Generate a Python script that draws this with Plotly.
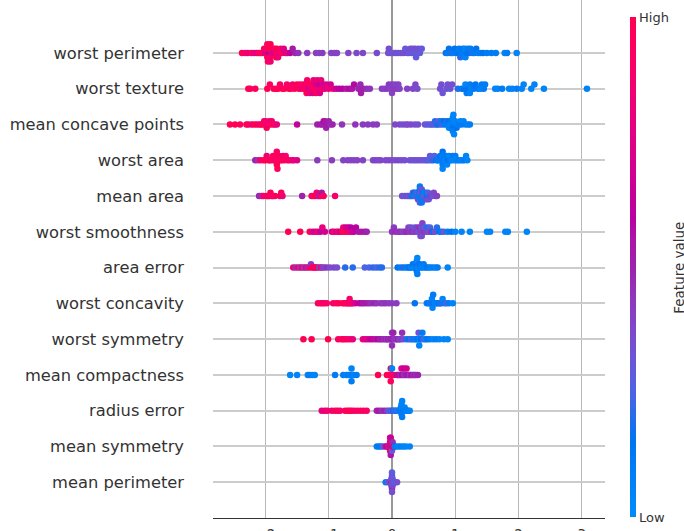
import numpy as np
import plotly.graph_objects as go

# Feature names, top to bottom
features = ["worst perimeter", "worst texture", "mean concave points", "worst area",
            "mean area", "worst smoothness", "area error", "worst concavity",
            "worst symmetry", "mean compactness", "radius error", "mean symmetry",
            "mean perimeter"]

# (SHAP value, normalised feature value) pairs
worst_perimeter = [
    (-2.37, .9), (-2.32, .95), (-2.28, .8), (-2.22, .95), (-2.18, .85), (-2.14, .75), (-2.10, .95),
    (-2.07, .9), (-2.04, 1), (-2.02, .95), (-2.00, .7), (-1.99, .9), (-1.97, 1), (-1.97, .95),
    (-1.96, .95), (-1.95, .6), (-1.95, 1), (-1.93, .9), (-1.92, 1), (-1.92, .85), (-1.90, .85),
    (-1.88, .95), (-1.87, .7), (-1.85, .9), (-1.83, 1), (-1.82, .95), (-1.82, 1), (-1.80, .85),
    (-1.78, .8), (-1.76, .9), (-1.74, .95), (-1.71, .75), (-1.68, .7), (-1.65, .8), (-1.61, .6),
    (-1.57, .55), (-1.53, .5), (-1.48, .45),
    (-1.34, .42), (-1.20, .42), (-1.15, .4), (-1.10, .42), (-0.96, .4), (-0.91, .4), (-0.87, .4),
    (-0.69, .4), (-0.56, .38), (-0.46, .38), (-0.24, .37), (-0.06, .35),
    (-0.05, .35), (-0.02, .35), (0.02, .3), (0.06, .35), (0.10, .35), (0.14, .3), (0.18, .35),
    (0.21, .3), (0.24, .35), (0.27, .3), (0.29, .35), (0.31, .3), (0.33, .35), (0.35, .3),
    (0.37, .35), (0.38, .3), (0.40, .3), (0.42, .35), (0.44, .3), (0.47, .3),
    (0.85, .15), (0.88, .1), (0.90, .15), (0.93, .2), (0.96, .1), (0.99, .15), (1.02, .1),
    (1.04, .15), (1.06, .1), (1.08, .2), (1.10, .1), (1.12, .15), (1.14, .1), (1.15, .05),
    (1.16, .05), (1.18, .15), (1.20, .1), (1.22, .15), (1.24, .1), (1.27, .2), (1.30, .1),
    (1.33, .15), (1.36, .1), (1.40, .1), (1.44, .15), (1.50, .1), (1.57, .1), (1.64, .1),
    (1.78, .05), (1.82, .1), (1.97, .05)]

worst_texture = [
    (-2.27, 1), (-2.24, .95), (-2.16, .95),
    (-1.97, 1), (-1.93, .95), (-1.87, .9), (-1.83, 1), (-1.80, .95), (-1.77, .9), (-1.73, 1),
    (-1.70, .95), (-1.66, .9), (-1.63, 1), (-1.60, .95), (-1.57, .85), (-1.54, .95), (-1.50, 1),
    (-1.47, .9), (-1.45, .95), (-1.42, .8), (-1.40, .9), (-1.38, 1), (-1.36, .85), (-1.35, .95),
    (-1.34, .95), (-1.32, .75), (-1.30, .9), (-1.30, .85), (-1.28, .85), (-1.26, .95), (-1.25, .7),
    (-1.24, .8), (-1.22, .9), (-1.20, .7), (-1.20, .95), (-1.18, .85), (-1.16, .9), (-1.15, .65),
    (-1.14, .75), (-1.12, .8), (-1.10, .85), (-1.08, .7), (-1.06, .8), (-1.03, .75), (-1.00, .85),
    (-0.97, .7), (-0.93, .8),
    (-0.88, .65), (-0.83, .6), (-0.78, .6), (-0.72, .55), (-0.67, .62), (-0.63, .55), (-0.60, .58),
    (-0.53, .5), (-0.50, .48), (-0.49, .52), (-0.45, .5), (-0.40, .46), (-0.35, .45),
    (-0.16, .42), (-0.12, .4), (-0.08, .42), (-0.05, .42), (-0.02, .4), (0.00, .42), (0.00, .4),
    (0.03, .42), (0.05, .4), (0.08, .42), (0.10, .4), (0.12, .4),
    (0.24, .4), (0.33, .38), (0.37, .38), (0.40, .36),
    (0.76, .35), (0.78, .35), (0.80, .32), (0.86, .32), (0.88, .35), (0.92, .32), (0.95, .35),
    (1.04, .2), (1.10, .1), (1.14, .15), (1.16, .05), (1.18, .1), (1.20, .15), (1.23, .1),
    (1.23, .05), (1.26, .05), (1.29, .1), (1.32, .15), (1.36, .1), (1.40, .05), (1.42, .1),
    (1.45, .1), (1.47, .1),
    (1.63, .05), (1.67, .05), (1.74, .1), (1.85, .05), (1.90, .05), (1.97, .1), (2.05, .05),
    (2.08, .05), (2.20, .05), (2.25, .05), (2.40, .05), (3.08, .05)]

mean_concave_points = [
    (-2.56, .95), (-2.48, 1), (-2.40, .95), (-2.30, .9), (-2.27, 1), (-2.22, .8), (-2.18, .95),
    (-2.14, 1), (-2.10, .85), (-2.07, .95), (-2.04, 1), (-2.02, .8), (-2.00, .95), (-2.00, .9),
    (-1.98, 1), (-1.96, .75), (-1.94, .9), (-1.92, 1), (-1.90, .85), (-1.88, .95), (-1.85, .9),
    (-1.82, .8),
    (-1.50, .65),
    (-1.18, .5), (-1.13, .55), (-1.10, .5), (-1.08, .58), (-1.06, .5), (-1.06, .55), (-1.04, .5),
    (-1.02, .55), (-1.00, .5), (-0.97, .46), (-0.94, .5),
    (-0.79, .45), (-0.58, .45), (-0.46, .42), (-0.38, .42), (-0.30, .42), (-0.24, .42),
    (0.05, .38), (0.12, .38), (0.17, .35), (0.22, .38), (0.25, .35), (0.30, .38), (0.36, .35), (0.41, .35),
    (0.52, .32), (0.56, .28), (0.60, .32), (0.63, .25), (0.66, .3), (0.68, .2), (0.70, .25),
    (0.72, .15), (0.74, .3), (0.76, .2), (0.78, .1), (0.80, .25), (0.82, .15), (0.84, .1),
    (0.86, .2), (0.88, .1), (0.90, .15), (0.90, .05), (0.92, .05), (0.94, .1), (0.94, .05),
    (0.96, .05), (0.96, .1), (0.96, .15), (0.96, .05), (0.96, .1), (0.97, .05), (0.98, .05),
    (1.00, .1), (1.00, .05), (1.02, .15), (1.04, .05), (1.06, .1), (1.08, .05), (1.10, .1),
    (1.13, .05), (1.16, .1), (1.20, .05), (1.23, .1)]

worst_area = [
    (-2.16, .5), (-2.12, .45), (-2.08, .9), (-2.03, .95), (-2.00, 1), (-1.98, .85), (-1.95, .95),
    (-1.93, 1), (-1.90, .9), (-1.88, .95), (-1.86, 1), (-1.84, .85), (-1.82, .95), (-1.82, 1),
    (-1.82, .9), (-1.81, .95), (-1.80, .95), (-1.78, 1), (-1.76, .9), (-1.74, .95), (-1.72, .85),
    (-1.70, 1), (-1.68, .9), (-1.65, .95), (-1.62, .85), (-1.58, .9), (-1.55, .8), (-1.50, .75),
    (-1.18, .42), (-0.95, .42), (-0.77, .4), (-0.70, .4), (-0.65, .4), (-0.60, .4), (-0.55, .4),
    (-0.46, .4), (-0.30, .38), (-0.26, .4), (-0.22, .38), (-0.18, .38), (-0.10, .38), (-0.05, .38),
    (0.00, .38), (0.05, .35), (0.10, .38), (0.15, .35), (0.20, .35),
    (0.28, .35), (0.32, .32), (0.36, .35), (0.40, .32), (0.44, .35), (0.48, .32), (0.52, .3),
    (0.55, .32), (0.58, .25), (0.60, .3), (0.62, .32), (0.65, .2), (0.67, .25), (0.70, .15),
    (0.72, .2), (0.74, .1), (0.76, .15), (0.78, .1), (0.80, .05), (0.80, .1), (0.80, .15),
    (0.80, .05), (0.81, .1), (0.82, .1), (0.84, .05), (0.86, .1), (0.87, .05), (0.88, .15),
    (0.90, .05), (0.92, .1), (0.94, .05), (0.96, .1), (0.98, .05), (1.00, .1), (1.02, .05),
    (1.05, .1), (1.08, .05), (1.11, .05), (1.14, .1), (1.17, .05), (1.19, .05)]

mean_area = [
    (-2.10, .5), (-2.06, .45), (-2.03, .9), (-1.98, .95), (-1.96, 1), (-1.94, .85), (-1.92, .95),
    (-1.90, 1), (-1.88, .9), (-1.85, .95), (-1.77, .9), (-1.75, 1), (-1.73, .85), (-1.42, .5),
    (-1.27, .95), (-1.24, .9), (-1.21, 1), (-1.19, .85), (-1.17, .95), (-1.15, .5), (-1.13, .9),
    (-1.11, .55), (-1.08, .95), (-0.90, .9),
    (0.16, .35), (0.20, .3), (0.24, .38), (0.27, .28), (0.29, .35), (0.31, .2), (0.33, .3),
    (0.34, .1), (0.35, .15), (0.37, .28), (0.38, .1), (0.39, .2), (0.40, .25), (0.41, .38),
    (0.42, .1), (0.43, .2), (0.44, .05), (0.44, .15), (0.44, .28), (0.44, .1), (0.45, .1),
    (0.45, .32), (0.46, .2), (0.47, .35), (0.47, .1), (0.48, .1), (0.49, .15), (0.50, .28),
    (0.51, .05), (0.52, .2), (0.53, .32), (0.54, .1), (0.55, .38), (0.56, .15), (0.57, .28),
    (0.58, .35), (0.60, .2), (0.62, .42), (0.64, .32), (0.66, .38), (0.69, .35), (0.71, .4)]

worst_smoothness = [
    (-1.64, 1), (-1.45, 1), (-1.30, .95), (-1.25, .75), (-1.21, .7), (-1.17, .85), (-1.13, .65),
    (-1.10, .8), (-1.06, .7), (-0.95, .65), (-0.92, .9), (-0.88, .7), (-0.85, .95), (-0.82, .65),
    (-0.79, 1), (-0.77, .85), (-0.75, .95), (-0.73, .7), (-0.71, 1), (-0.69, .65), (-0.67, .8),
    (-0.65, .6), (-0.63, .7), (-0.60, .65), (-0.57, .6), (-0.53, .55), (-0.48, .55), (-0.43, .55),
    (-0.40, .5),
    (0.00, .45), (0.03, .42), (0.06, .48), (0.10, .42), (0.13, .46), (0.17, .4), (0.20, .42),
    (0.23, .48), (0.26, .4), (0.28, .42), (0.30, .35), (0.32, .48), (0.34, .4), (0.36, .3),
    (0.38, .42), (0.40, .4), (0.42, .35), (0.44, .48), (0.45, .4), (0.46, .42), (0.46, .35),
    (0.47, .35), (0.48, .4), (0.50, .42), (0.52, .28), (0.54, .4), (0.56, .2), (0.58, .35),
    (0.60, .25), (0.62, .45), (0.65, .15), (0.68, .35), (0.71, .2), (0.75, .15), (0.78, .1),
    (0.82, .32), (0.88, .1), (0.94, .15), (1.00, .05),
    (1.10, .05), (1.23, .05), (1.50, .05), (1.55, .05), (1.79, .05), (1.83, .05), (2.13, .05)]

area_error = [
    (-1.56, .85), (-1.52, .45), (-1.48, .9), (-1.45, .42), (-1.42, .95), (-1.39, .4), (-1.36, .85),
    (-1.33, .45), (-1.30, .9), (-1.28, .42), (-1.26, 1), (-1.24, .95), (-1.22, .9), (-1.20, .85),
    (-1.18, 1), (-1.15, .4), (-1.12, .9), (-1.10, .42), (-1.07, .38), (-1.03, .45), (-0.98, .35),
    (-0.92, .38), (-0.87, .35),
    (-0.74, .2), (-0.62, .2), (-0.43, .25), (-0.36, .25), (-0.30, .2), (-0.25, .25), (-0.20, .2),
    (-0.16, .2),
    (0.09, .15), (0.14, .1), (0.18, .2), (0.22, .1), (0.25, .05), (0.27, .15), (0.29, .1),
    (0.31, .05), (0.33, .15), (0.35, .1), (0.36, .05), (0.37, .1), (0.38, .05), (0.38, .15),
    (0.39, .15), (0.39, .05), (0.40, .1), (0.40, .05), (0.41, .05), (0.42, .1), (0.43, .05),
    (0.44, .15), (0.46, .1), (0.48, .05), (0.50, .1), (0.52, .05), (0.55, .15), (0.58, .1),
    (0.61, .05), (0.65, .1), (0.69, .05), (0.72, .1), (0.88, .05)]

worst_concavity = [
    (-1.17, .9), (-1.13, .95), (-1.10, 1), (-1.07, .85), (-1.03, .9), (-0.93, .95), (-0.88, .9),
    (-0.84, 1), (-0.78, .9), (-0.75, 1), (-0.72, .95), (-0.70, .85), (-0.68, 1), (-0.67, .9),
    (-0.66, .9), (-0.64, .95), (-0.62, .8), (-0.58, .7), (-0.52, .62), (-0.48, .58), (-0.45, .52),
    (-0.41, .55), (-0.37, .5), (-0.33, .46), (-0.28, .5), (-0.24, .45), (-0.18, .45), (-0.14, .42),
    (-0.10, .45), (-0.05, .42), (0.00, .42), (0.07, .42),
    (0.36, .15), (0.55, .1), (0.58, .15), (0.60, .05), (0.62, .1), (0.63, .2), (0.63, .05),
    (0.64, .05), (0.65, .1), (0.66, .15), (0.68, .05), (0.70, .1), (0.72, .05), (0.74, .15),
    (0.76, .1), (0.78, .2), (0.80, .05), (0.83, .1), (0.86, .25), (0.90, .1), (0.96, .05)]

worst_symmetry = [
    (-1.40, 1), (-1.27, 1), (-1.01, 1), (-0.85, .95), (-0.80, .9), (-0.77, 1), (-0.74, .85),
    (-0.70, .95), (-0.66, .9), (-0.62, .8), (-0.46, .8), (-0.42, .7), (-0.38, .75), (-0.34, .62),
    (-0.30, .68), (-0.26, .55), (-0.22, .6), (-0.19, .5), (-0.16, .55), (-0.13, .45), (-0.10, .5),
    (-0.08, .42), (-0.06, .55), (-0.04, .45), (-0.02, .5), (0.00, .42), (0.00, .46), (0.01, .5),
    (0.02, .5), (0.04, .4), (0.06, .46), (0.08, .42), (0.10, .5), (0.12, .38), (0.14, .42),
    (0.16, .46), (0.18, .38),
    (0.23, .2), (0.27, .15), (0.30, .25), (0.33, .1), (0.36, .2), (0.38, .05), (0.40, .15),
    (0.42, .1), (0.42, .32), (0.43, .05), (0.44, .05), (0.46, .15), (0.48, .1), (0.50, .28),
    (0.53, .05), (0.56, .15), (0.60, .1), (0.65, .05), (0.70, .1), (0.75, .05), (0.82, .05),
    (0.88, .05)]

mean_compactness = [
    (-1.61, .05), (-1.50, .05), (-1.33, .05), (-1.30, .1), (-1.26, .05), (-1.22, .05), (-0.90, .1),
    (-0.77, .1), (-0.72, .05), (-0.69, .1), (-0.66, .05), (-0.64, .1), (-0.64, .05), (-0.64, .1),
    (-0.62, .1), (-0.60, .05), (-0.56, .1),
    (-0.22, 1), (-0.08, 1), (-0.05, .95), (-0.03, 1), (-0.02, .9), (-0.02, 1), (-0.02, .95),
    (0.00, .95), (0.00, .05), (0.02, .9),
    (0.08, .65), (0.10, .55), (0.12, .7), (0.14, .45), (0.15, .75), (0.16, .6), (0.18, .5),
    (0.19, .65), (0.20, .4), (0.22, .55), (0.23, .7), (0.25, .45), (0.26, .6), (0.28, .38),
    (0.30, .5), (0.32, .65), (0.34, .4), (0.36, .55), (0.38, .45), (0.41, .5)]

radius_error = [
    (-1.11, .8), (-1.06, .75), (-1.02, .9), (-0.95, .85), (-0.90, .9), (-0.86, 1), (-0.82, .9),
    (-0.74, .95), (-0.70, 1), (-0.67, .95), (-0.64, 1), (-0.60, .9), (-0.55, .95), (-0.50, .9),
    (-0.45, .95), (-0.40, .9), (-0.24, .5), (-0.20, .55), (-0.16, .45), (-0.12, .5), (-0.08, .42),
    (-0.05, .3), (-0.02, .2), (0.00, .32), (0.02, .15), (0.04, .28), (0.06, .1), (0.08, .25),
    (0.10, .05), (0.12, .2), (0.13, .1), (0.14, .05), (0.14, .1), (0.15, .15), (0.15, .05),
    (0.15, .1), (0.15, .05), (0.16, .1), (0.16, .05), (0.17, .05), (0.18, .15), (0.19, .1),
    (0.20, .05), (0.22, .1), (0.24, .05), (0.26, .1), (0.28, .05)]

mean_symmetry = [
    (-0.24, .1), (-0.20, .15), (-0.17, .1), (-0.14, .3), (-0.10, .55), (-0.08, .65), (-0.06, .8),
    (-0.05, .45), (-0.04, .9), (-0.03, .65), (-0.03, .55), (-0.03, .8), (-0.03, .9), (-0.02, .5),
    (-0.02, .9), (-0.02, 1), (-0.02, .65), (-0.02, .55), (-0.01, .55), (-0.01, .8), (0.00, .65),
    (0.00, .85), (0.00, .3), (0.01, .9), (0.01, .45), (0.02, 1), (0.03, .6), (0.04, .2),
    (0.06, .1), (0.10, .05), (0.14, .1), (0.18, .05), (0.22, .05), (0.28, .05)]

mean_perimeter = [
    (-0.10, .1), (-0.06, .28), (-0.04, .35), (-0.03, .42), (-0.02, .38), (-0.01, .5), (-0.01, .35),
    (-0.01, .28), (0.00, .35), (0.00, .42), (0.00, .3), (0.00, .38), (0.00, .5), (0.00, .28),
    (0.00, .35), (0.01, .42), (0.01, .3), (0.01, .38), (0.02, .35), (0.03, .3), (0.05, .28),
    (0.08, .35)]

rows = [worst_perimeter, worst_texture, mean_concave_points, worst_area, mean_area,
        worst_smoothness, area_error, worst_concavity, worst_symmetry, mean_compactness,
        radius_error, mean_symmetry, mean_perimeter]

x_ticks = [-2, -1, 0, 1, 2, 3]


def shap_red_blue(n=21):
    """SHAP red_blue colour map, built in LCH space."""
    blue_lch = [54., 70., 4.6588]
    l_mid = 40.
    red_lch = [54., 90., 0.35470565 + 2 * np.pi]
    steps = 100
    ls = list(np.linspace(blue_lch[0], l_mid, steps // 2)) + list(np.linspace(l_mid, red_lch[0], steps // 2))
    cs = np.linspace(blue_lch[1], red_lch[1], steps)
    hs = np.linspace(blue_lch[2], red_lch[2], steps)

    def lab2rgb(L, a, b):
        fy = (L + 16) / 116
        fx = fy + a / 500
        fz = fy - b / 200
        def finv(t):
            return t ** 3 if t > 6 / 29 else 3 * (6 / 29) ** 2 * (t - 4 / 29)
        X, Y, Z = 0.95047 * finv(fx), 1.0 * finv(fy), 1.08883 * finv(fz)
        r = 3.2406 * X - 1.5372 * Y - 0.4986 * Z
        g = -0.9689 * X + 1.8758 * Y + 0.0415 * Z
        bb = 0.0557 * X - 0.2040 * Y + 1.0570 * Z
        out = []
        for v in (r, g, bb):
            v = min(max(v, 0), 1)
            v = 12.92 * v if v <= 0.0031308 else 1.055 * v ** (1 / 2.4) - 0.055
            out.append(int(round(min(max(v, 0), 1) * 255)))
        return out

    scale = []
    for k in range(n):
        i = int(round(k * (steps - 1) / (n - 1)))
        L, C, H = ls[i], cs[i], hs[i]
        r, g, b = lab2rgb(L, C * np.cos(H), C * np.sin(H))
        scale.append([k / (n - 1), f"rgb({r},{g},{b})"])
    return scale


def swarm_offsets(vals, row_height=0.4, nbins=100):
    vals = np.asarray(vals, float)
    quant = np.round(nbins * (vals - vals.min()) / (vals.max() - vals.min() + 1e-8))
    order = np.argsort(quant, kind="stable")
    ys = np.zeros(len(vals))
    layer, last = 0, None
    for ind in order:
        if quant[ind] != last:
            layer = 0
        ys[ind] = np.ceil(layer / 2) * ((layer % 2) * 2 - 1)
        layer += 1
        last = quant[ind]
    ys *= 0.9 * (row_height / np.max(ys + 1))
    return ys


n = len(features)
px, py, pc = [], [], []
for i, data in enumerate(rows):
    pos = n - 1 - i
    sv = [d[0] for d in data]
    fv = [d[1] for d in data]
    off = swarm_offsets(sv)
    px.extend(sv)
    py.extend(list(pos + off))
    pc.extend(fv)

fig = go.Figure(go.Scatter(
    x=px, y=py, mode="markers", hoverinfo="skip",
    marker=dict(size=6.5, color=pc, colorscale=shap_red_blue(), cmin=0, cmax=1,
                line=dict(width=0), showscale=True,
                colorbar=dict(
                    tickvals=[0, 1], ticktext=["Low", "High"], ticks="",
                    outlinewidth=0, thickness=6, lenmode="fraction", len=0.966,
                    y=0.0015, yanchor="bottom", ypad=0,
                    x=1.0638, xanchor="left", xpad=0,
                    tickfont=dict(size=13, color="#333333")))))

fig.add_annotation(text="Feature value", textangle=-90, xref="paper", yref="paper",
                   x=1.19, y=0.484, xanchor="center", yanchor="middle", showarrow=False,
                   font=dict(size=13.5, color="#333333"))

fig.update_layout(
    width=684, height=531,
    margin=dict(l=213, r=79, t=0, b=13, autoexpand=False),
    plot_bgcolor="white", paper_bgcolor="white",
    font=dict(family="DejaVu Sans", color="#333333"),
    showlegend=False,
    xaxis=dict(range=[-2.828, 3.365], tickvals=x_ticks, showgrid=True,
               gridcolor="#b8b8b8", gridwidth=1, zeroline=True, zerolinecolor="#999999",
               zerolinewidth=2, showline=True, linecolor="#333333", linewidth=1,
               ticks="", ticklabelstandoff=4, tickfont=dict(size=13.5, color="#333333")),
    yaxis=dict(range=[-1, 13.48], tickvals=list(range(n)), ticktext=features[::-1],
               showgrid=True, gridcolor="#cccccc", gridwidth=1.5, zeroline=False,
               showline=False, ticks="", ticklabelstandoff=28,
               tickfont=dict(size=16.3, color="#333333")),
)

fig.write_html("out.html", config={"displayModeBar": False},
               post_script="document.body.style.margin='0px';")
